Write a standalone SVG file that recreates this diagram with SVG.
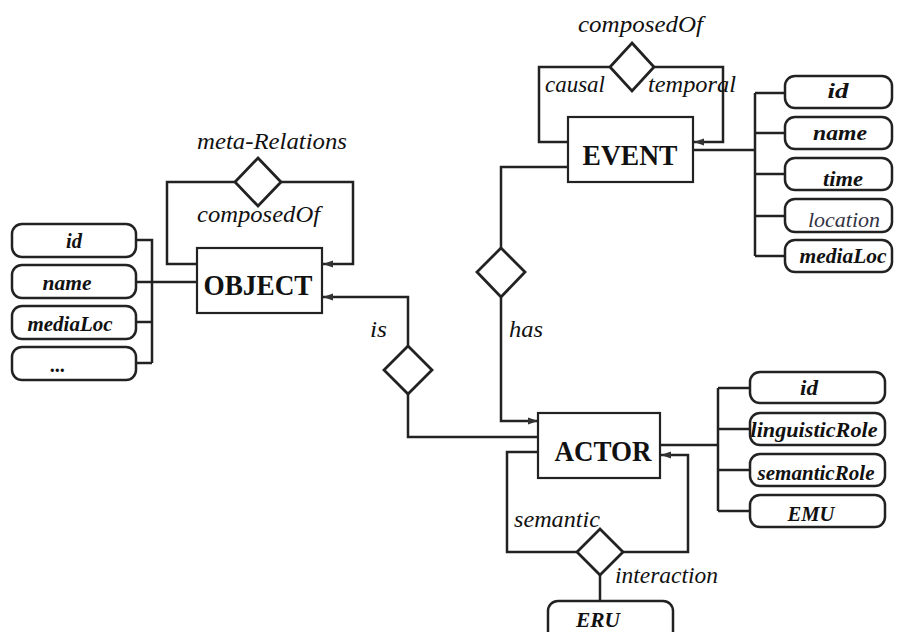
<svg xmlns="http://www.w3.org/2000/svg" width="901" height="632" viewBox="0 0 901 632">
<style>
.ln{fill:none;stroke:#222;stroke-width:2.5}
.box{fill:#fff;stroke:#222;stroke-width:2.2}
.att{fill:#fff;stroke:#222;stroke-width:2.5}
.dia{fill:#fff;stroke:#222;stroke-width:2.8}
.ent{font-family:"Liberation Serif",serif;font-weight:bold;font-size:30px;fill:#111;text-anchor:middle}
.at{font-family:"Liberation Serif",serif;font-weight:bold;font-style:italic;font-size:20px;fill:#111;text-anchor:middle}
.lb{font-family:"Liberation Serif",serif;font-style:italic;font-size:23px;fill:#111}
</style>
<defs>
<marker id="arr" markerWidth="11" markerHeight="8" refX="10" refY="4" orient="auto" markerUnits="userSpaceOnUse">
<path d="M0,0.5 L10,4 L0,7.5 z" fill="#333"/>
</marker>
</defs>
<rect width="901" height="632" fill="#fff"/>
<g id="connectors">
<path class="ln" d="M136,240 H152 V363 M136,322 H152 M136,363 H152 M136,282 H197"/>
<path class="ln" d="M197,264 H167 V182 H235 M281,182 H353 V264 H323" marker-end="url(#arr)"/>
<path class="ln" d="M408,346 V297 H323" marker-end="url(#arr)"/>
<path class="ln" d="M408,394 V437 H538"/>
<path class="ln" d="M568,167 H501 V248"/>
<path class="ln" d="M501,297 V421 H538" marker-end="url(#arr)"/>
<path class="ln" d="M568,142 H539 V67 H610 M654,67 H723 V142 H694" marker-end="url(#arr)"/>
<path class="ln" d="M693,150 H755 M755,93 V256 M755,93 H785 M755,133 H785 M755,174 H785 M755,216 H785 M755,256 H785"/>
<path class="ln" d="M660,445 H718 M718,388 V511 M718,388 H750 M718,429 H750 M718,470 H750 M718,511 H750"/>
<path class="ln" d="M538,452 H507 V552 H577 M623,552 H688 V455 H661" marker-end="url(#arr)"/>
<path class="ln" d="M600,575 V601"/>
</g>
<g id="OBJECT">
<rect class="box" x="197" y="248" width="125" height="65"/>
<text class="ent" x="258" y="295" textLength="109" lengthAdjust="spacingAndGlyphs">OBJECT</text>
</g>
<g id="EVENT">
<rect class="box" x="568" y="117" width="125" height="65"/>
<text class="ent" x="630" y="165" textLength="95" lengthAdjust="spacingAndGlyphs">EVENT</text>
</g>
<g id="ACTOR">
<rect class="box" x="538" y="413" width="122" height="65"/>
<text class="ent" x="603" y="461" textLength="97" lengthAdjust="spacingAndGlyphs">ACTOR</text>
</g>
<g id="rel-metaRelations">
<path class="dia" d="M258,158 L281,182 L258,206 L235,182 z"/>
<text class="lb" x="197" y="149" textLength="150" lengthAdjust="spacingAndGlyphs">meta-Relations</text>
<text class="lb" x="197" y="222" textLength="123" lengthAdjust="spacingAndGlyphs">composedOf</text>
</g>
<g id="rel-composedOf">
<path class="dia" d="M632,43 L654,67 L632,91 L610,67 z"/>
<text class="lb" x="578" y="32" textLength="125" lengthAdjust="spacingAndGlyphs">composedOf</text>
<text class="lb" x="545" y="92" textLength="60" lengthAdjust="spacingAndGlyphs">causal</text>
<text class="lb" x="648" y="92" textLength="88" lengthAdjust="spacingAndGlyphs">temporal</text>
</g>
<g id="rel-is">
<path class="dia" d="M408,346 L432,370 L408,394 L384,370 z"/>
<text class="lb" x="370" y="337" textLength="17" lengthAdjust="spacingAndGlyphs">is</text>
</g>
<g id="rel-has">
<path class="dia" d="M501,248 L525,272 L501,297 L477,272 z"/>
<text class="lb" x="509" y="337" textLength="34" lengthAdjust="spacingAndGlyphs">has</text>
</g>
<g id="rel-interaction">
<path class="dia" d="M600,529 L623,552 L600,575 L577,552 z"/>
<text class="lb" x="514" y="527" textLength="86" lengthAdjust="spacingAndGlyphs">semantic</text>
<text class="lb" x="615" y="583" textLength="103" lengthAdjust="spacingAndGlyphs">interaction</text>
</g>
<g id="obj-id"><rect class="att" x="12" y="224" width="124" height="33" rx="10"/><text class="at" x="74" y="248" textLength="16" lengthAdjust="spacingAndGlyphs">id</text></g>
<g id="obj-name"><rect class="att" x="12" y="265" width="124" height="33" rx="10"/><text class="at" x="67" y="290" textLength="49" lengthAdjust="spacingAndGlyphs">name</text></g>
<g id="obj-mediaLoc"><rect class="att" x="12" y="306" width="124" height="33" rx="10"/><text class="at" x="70" y="331" textLength="85" lengthAdjust="spacingAndGlyphs">mediaLoc</text></g>
<g id="obj-more"><rect class="att" x="12" y="347" width="124" height="33" rx="10"/><text class="at" x="58" y="372">...</text></g>
<g id="ev-id"><rect class="att" x="785" y="76" width="107" height="32" rx="10"/><text class="at" x="838" y="98" textLength="21" lengthAdjust="spacingAndGlyphs">id</text></g>
<g id="ev-name"><rect class="att" x="785" y="117" width="107" height="32" rx="10"/><text class="at" x="840" y="140" textLength="54" lengthAdjust="spacingAndGlyphs">name</text></g>
<g id="ev-time"><rect class="att" x="785" y="158" width="107" height="32" rx="10"/><text class="at" x="843" y="186" textLength="40" lengthAdjust="spacingAndGlyphs">time</text></g>
<g id="ev-location"><rect class="att" x="785" y="199" width="107" height="33" rx="10"/><text class="at" x="844" y="227" textLength="72" lengthAdjust="spacingAndGlyphs" style="font-weight:normal;fill:#334">location</text></g>
<g id="ev-mediaLoc"><rect class="att" x="785" y="240" width="107" height="32" rx="10"/><text class="at" x="843" y="263" textLength="87" lengthAdjust="spacingAndGlyphs">mediaLoc</text></g>
<g id="ac-id"><rect class="att" x="750" y="372" width="135" height="31" rx="10"/><text class="at" x="809" y="395" textLength="18" lengthAdjust="spacingAndGlyphs">id</text></g>
<g id="ac-linguisticRole"><rect class="att" x="750" y="413" width="135" height="32" rx="10"/><text class="at" x="814" y="437" textLength="127" lengthAdjust="spacingAndGlyphs">linguisticRole</text></g>
<g id="ac-semanticRole"><rect class="att" x="750" y="454" width="135" height="32" rx="10"/><text class="at" x="816" y="480" textLength="117" lengthAdjust="spacingAndGlyphs">semanticRole</text></g>
<g id="ac-EMU"><rect class="att" x="750" y="495" width="135" height="32" rx="10"/><text class="at" x="811" y="521" textLength="47" lengthAdjust="spacingAndGlyphs">EMU</text></g>
<g id="ERU"><rect class="att" x="548" y="601" width="125" height="42" rx="10"/><text class="at" x="598" y="627" textLength="44" lengthAdjust="spacingAndGlyphs">ERU</text></g>
</svg>
